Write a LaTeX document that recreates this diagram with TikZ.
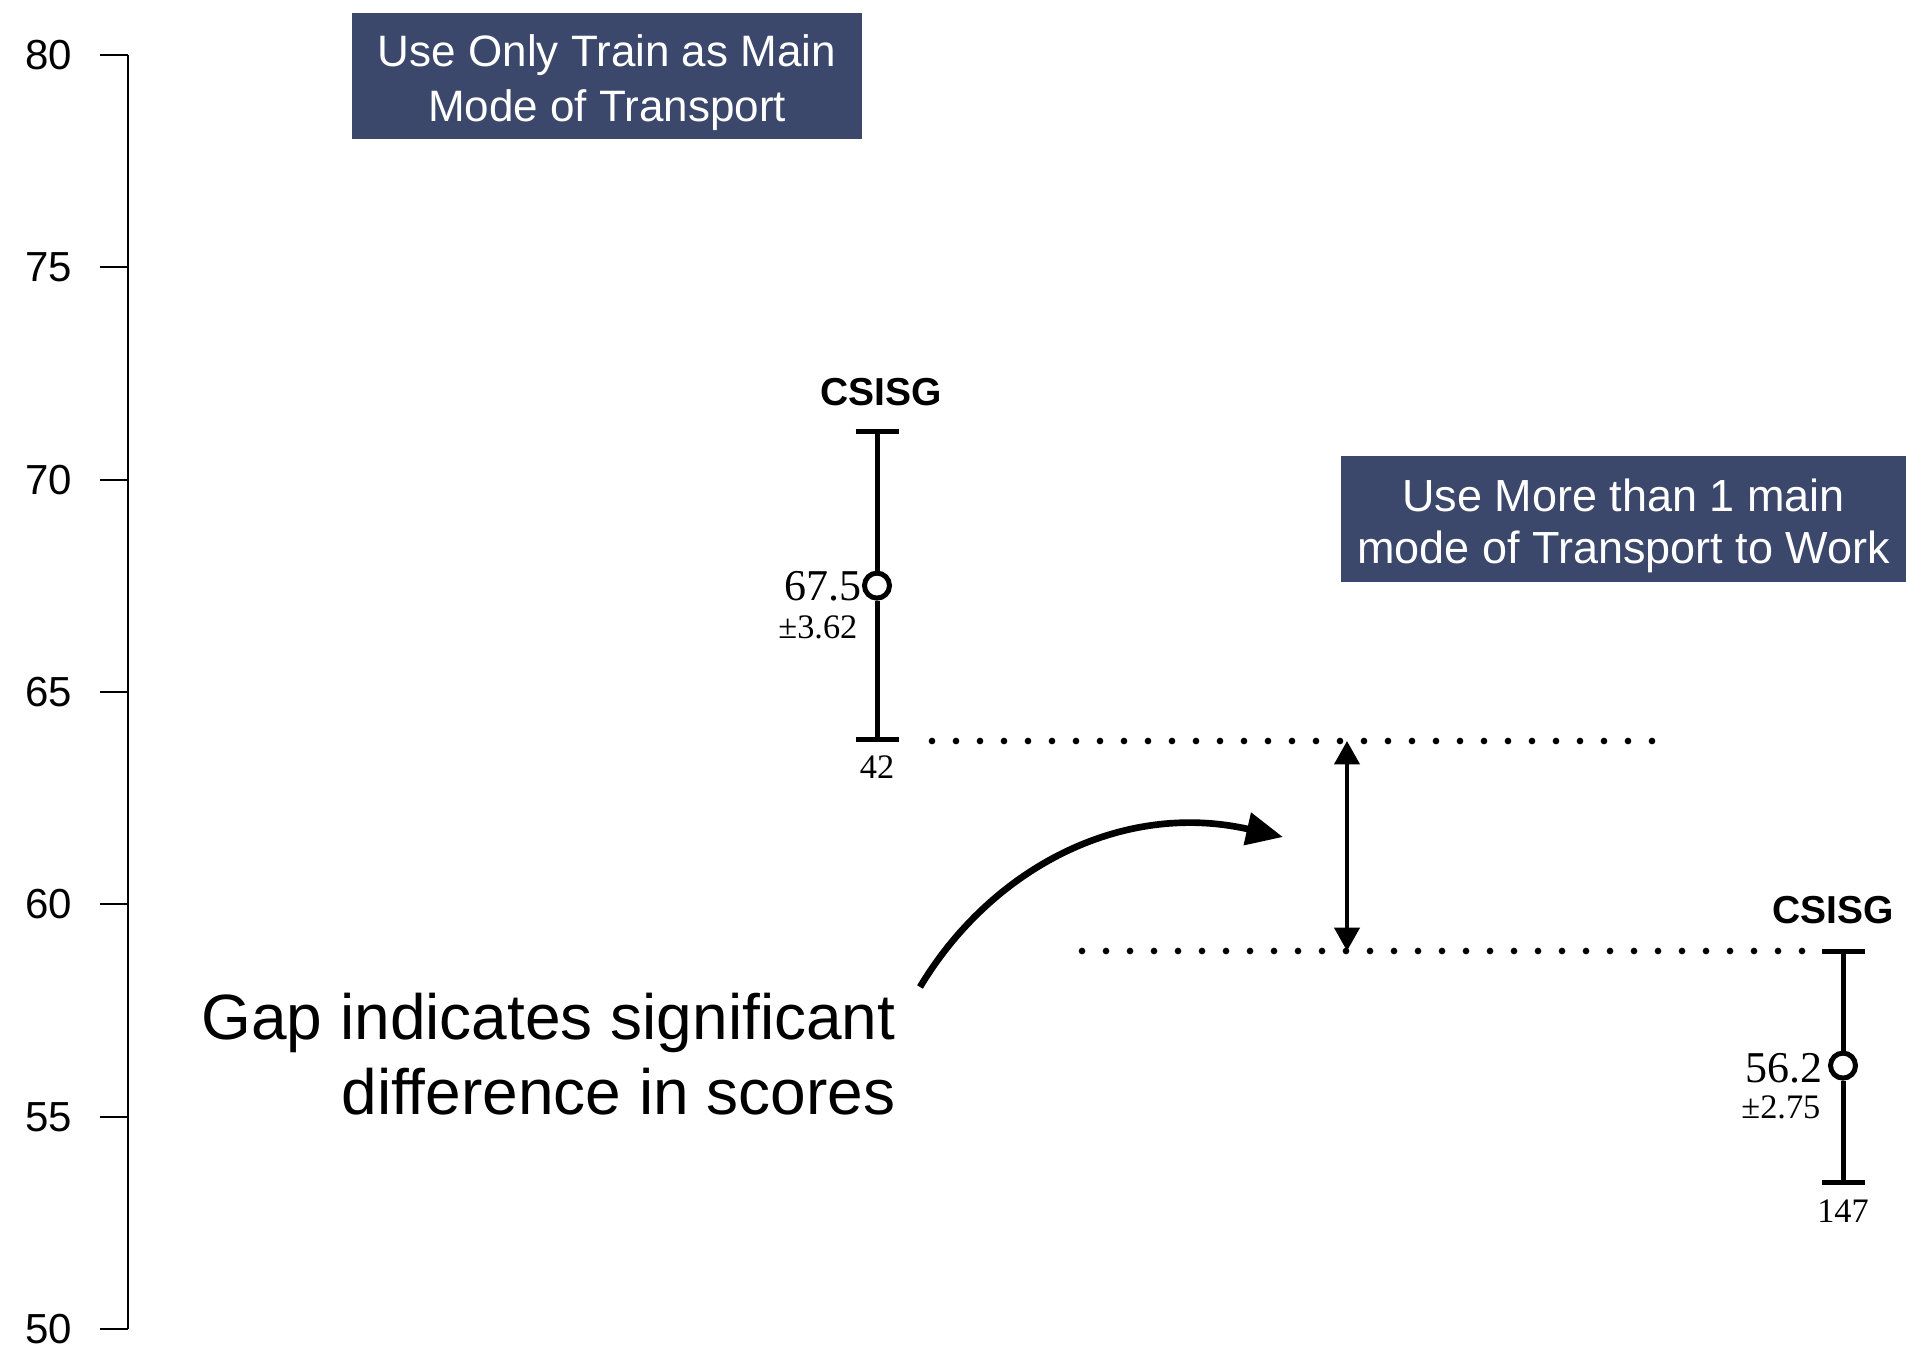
\documentclass[tikz,border=0pt]{standalone}
\usepackage{fontspec}
\setmainfont{Liberation Sans}
\newfontfamily\numfont{Liberation Serif}
\usetikzlibrary{arrows.meta,calc}
\definecolor{boxblue}{RGB}{59,71,107}
\tikzset{
  axisline/.style={line width=0.75pt},
  ticklabel/.style={anchor=east,inner sep=0pt,text depth=0pt,font=\fontsize{12.6}{14}\selectfont},
  barline/.style={line width=1.5pt},
  meanpt/.style={circle,draw,line width=1.5pt,fill=white,minimum size=7.5pt,inner sep=0pt},
  dotline/.style={line width=2pt,line cap=round,dash pattern=on 0pt off 7.2pt},
  headbox/.style={fill=boxblue,text=white,align=center,inner sep=0pt},
  grouplabel/.style={anchor=base,inner sep=0pt,font=\bfseries\fontsize{11.7}{14}\selectfont},
  meanlabel/.style={anchor=base east,inner sep=0pt,font=\numfont\fontsize{13.2}{15}\selectfont},
  errlabel/.style={anchor=base east,inner sep=0pt,font=\numfont\fontsize{10.3}{12}\selectfont},
  nlabel/.style={anchor=base,inner sep=0pt,font=\numfont\fontsize{10.3}{12}\selectfont},
}
\begin{document}
\begin{tikzpicture}[x=0.3pt,y=-0.3pt]
\useasboundingbox (0,0) rectangle (1906,1351);
% axis
\coordinate (atop) at (128,55);
\coordinate (abot) at (128,1329);
\draw[axisline] (atop) -- (abot);
\foreach \v/\yy in {80/55,75/267,70/480,65/692,60/904,55/1117,50/1329}{
  \draw[axisline] (100,\yy) -- (128,\yy);
  \node[ticklabel] (t\v) at (73,\yy) {\v};
}
% header boxes
\node[headbox,minimum width=153pt,minimum height=37.8pt,font=\fontsize{13.2}{16.5}\selectfont] (box1) at (607,76)
  {\rule{0pt}{13.8pt}Use Only Train as Main\\Mode of Transport};
\node[headbox,minimum width=169.5pt,minimum height=37.8pt,font=\fontsize{13.5}{15.6}\selectfont] (box2) at (1623.5,519)
  {\rule{0pt}{14.1pt}Use More than 1 main\\mode of Transport to Work};
% left error bar
\coordinate (t1) at (877,431.5);
\coordinate (b1) at (877,739.5);
\node[meanpt] (m1) at (877,585.6) {};
\draw[barline] (t1) -- (m1) (m1) -- (b1);
\draw[barline] ($(t1)+(-21.5,0)$) -- ($(t1)+(21.5,0)$);
\draw[barline] ($(b1)+(-21.5,0)$) -- ($(b1)+(21.5,0)$);
\node[grouplabel] (g1) at (881,405) {CSISG};
\node[meanlabel] (v1) at (862,600) {67.5};
\node[errlabel] (e1) at (858,638) {±3.62};
\node[nlabel] (n1) at (877,778) {42};
% right error bar
\coordinate (t2) at (1843,951.5);
\coordinate (b2) at (1843,1182);
\node[meanpt] (m2) at (1843,1065.6) {};
\draw[barline] (t2) -- (m2) (m2) -- (b2);
\draw[barline] ($(t2)+(-21.5,0)$) -- ($(t2)+(21.5,0)$);
\draw[barline] ($(b2)+(-21.5,0)$) -- ($(b2)+(21.5,0)$);
\node[grouplabel] (g2) at (1833,923) {CSISG};
\node[meanlabel] (v2) at (1823,1082) {56.2};
\node[errlabel] (e2) at (1821,1118) {±2.75};
\node[nlabel] (n2) at (1843,1222) {147};
% dotted lines
\coordinate (d1s) at (932,741);
\coordinate (d1e) at (1660,741);
\coordinate (d2s) at (1082,951);
\coordinate (d2e) at (1806,951);
\draw[dotline] (d1s) -- (d1e);
\draw[dotline] (d2s) -- (d2e);
% gap arrow
\coordinate (gt) at (1347,741);
\coordinate (gb) at (1347,951);
\draw[line width=1.2pt,{Triangle[length=7pt,width=7.5pt]}-{Triangle[length=7pt,width=7.5pt]}] (gt) -- (gb);
% gap text and curved arrow
\node[anchor=east,align=right,inner sep=0pt,font=\fontsize{19.2}{22.5}\selectfont] (gap) at (896,1054)
  {Gap indicates significant\\difference in scores};
\coordinate (cs) at (920,987);
\coordinate (ce) at (1283,837);
\draw[line width=2pt,-{Triangle[length=11pt,width=9.6pt]}] (cs) .. controls (990,870) and (1120,800) .. (ce);
\end{tikzpicture}
\end{document}
